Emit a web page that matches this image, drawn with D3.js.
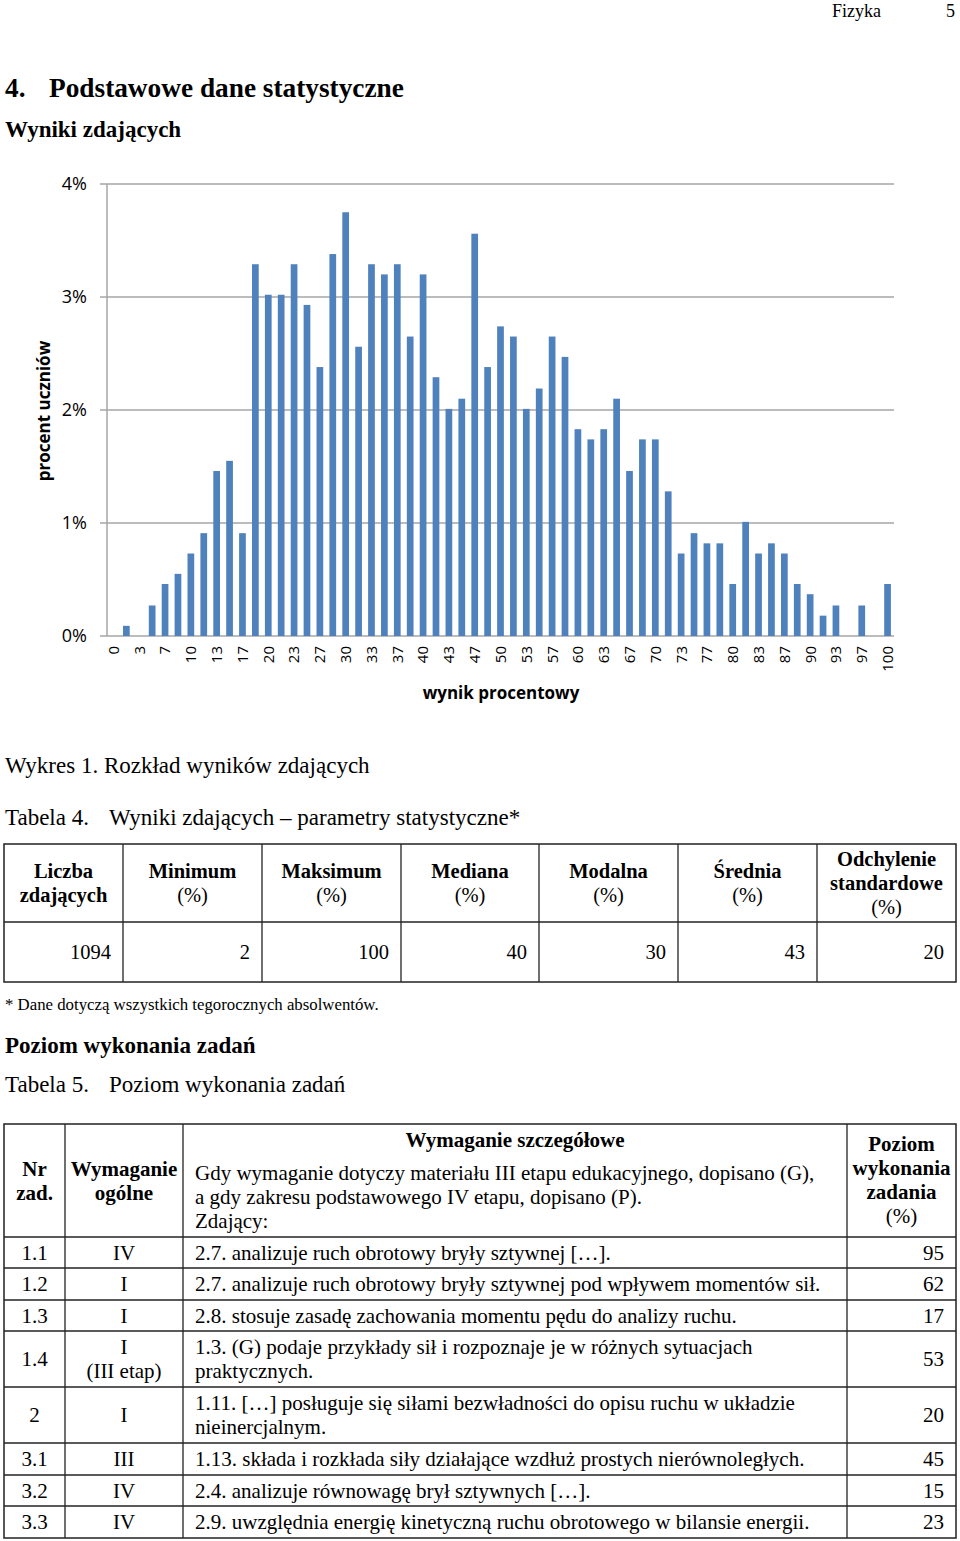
<!DOCTYPE html>
<html><head><meta charset="utf-8">
<script src="https://cdn.jsdelivr.net/npm/d3@7"></script>
<style>
html,body{margin:0;padding:0;background:#fff;}
svg{display:block;}
.serif{font-family:"Liberation Serif","Times New Roman",serif;fill:#000;}
.sans{font-family:"Open Sans","Liberation Sans",sans-serif;fill:#000;}
</style></head>
<body>
<svg id="page" width="960" height="1541"></svg>
<script>
// ---------- DATA ----------
const categories = ["0","2","3","5","7","8","10","12","13","15","17","18","20","22","23","25","27","28","30","32","33","35","37","38","40","42","43","45","47","48","50","52","53","55","57","58","60","62","63","65","67","68","70","72","73","75","77","78","80","82","83","85","87","88","90","92","93","95","97","98","100"];
const shares = [0,0.09,0,0.27,0.46,0.55,0.73,0.91,1.46,1.55,0.91,3.29,3.02,3.02,3.29,2.93,2.38,3.38,3.75,2.56,3.29,3.20,3.29,2.65,3.20,2.29,2.01,2.10,3.56,2.38,2.74,2.65,2.01,2.19,2.65,2.47,1.83,1.74,1.83,2.10,1.46,1.74,1.74,1.28,0.73,0.91,0.82,0.82,0.46,1.01,0.73,0.82,0.73,0.46,0.37,0.18,0.27,0,0.27,0,0.46];
const tickLabels = ["0","3","7","10","13","17","20","23","27","30","33","37","40","43","47","50","53","57","60","63","67","70","73","77","80","83","87","90","93","97","100"];
const yTicks = [0,1,2,3,4];

const stat4Headers = [["Liczba","zdających"],["Minimum","(%)"],["Maksimum","(%)"],["Mediana","(%)"],["Modalna","(%)"],["Średnia","(%)"],["Odchylenie","standardowe","(%)"]];
const stat4Values = [1094,2,100,40,30,43,20];

const taskNr = ["1.1","1.2","1.3","1.4","2","3.1","3.2","3.3"];
const taskGeneral = [["IV"],["I"],["I"],["I","(III etap)"],["I"],["III"],["IV"],["IV"]];
const taskSpecific = [
 ["2.7. analizuje ruch obrotowy bryły sztywnej […]."],
 ["2.7. analizuje ruch obrotowy bryły sztywnej pod wpływem momentów sił."],
 ["2.8. stosuje zasadę zachowania momentu pędu do analizy ruchu."],
 ["1.3. (G) podaje przykłady sił i rozpoznaje je w różnych sytuacjach","praktycznych."],
 ["1.11. […] posługuje się siłami bezwładności do opisu ruchu w układzie","nieinercjalnym."],
 ["1.13. składa i rozkłada siły działające wzdłuż prostych nierównoległych."],
 ["2.4. analizuje równowagę brył sztywnych […]."],
 ["2.9. uwzględnia energię kinetyczną ruchu obrotowego w bilansie energii."]
];
const taskLevel = [95,62,17,53,20,45,15,23];

// ---------- PAGE ----------
const svg = d3.select("#page");

svg.append("text").attr("class","serif").attr("x",881).attr("y",17).attr("text-anchor","end").attr("font-size",18).text("Fizyka");
svg.append("text").attr("class","serif").attr("x",955).attr("y",17).attr("text-anchor","end").attr("font-size",18).text("5");

svg.append("text").attr("class","serif").attr("x",5).attr("y",97).attr("font-size",27.3).attr("font-weight","bold").text("4.");
svg.append("text").attr("class","serif").attr("x",49).attr("y",97).attr("font-size",27.3).attr("font-weight","bold").text("Podstawowe dane statystyczne");
svg.append("text").attr("class","serif").attr("x",5).attr("y",137).attr("font-size",23).attr("font-weight","bold").text("Wyniki zdających");

// ---------- CHART ----------
const x = d3.scaleBand().domain(d3.range(categories.length)).range([107,894]).paddingInner(0.48).paddingOuter(0.24);
const y = d3.scaleLinear().domain([0,4]).range([636,184]);
const g = svg.append("g");

g.selectAll("line.grid").data(yTicks).enter().append("line")
  .attr("x1",100).attr("x2",894).attr("y1",d=>y(d)).attr("y2",d=>y(d))
  .attr("stroke","#a6a6a6").attr("stroke-width",1.5);
g.append("line").attr("x1",107).attr("x2",107).attr("y1",y(4)).attr("y2",y(0)).attr("stroke","#a6a6a6").attr("stroke-width",1.5);

g.selectAll("text.ylab").data(yTicks).enter().append("text").attr("class","sans")
  .attr("x",87).attr("y",d=>y(d)).attr("dy","0.36em").attr("text-anchor","end").attr("font-size",18)
  .text(d=>d+"%");

g.selectAll("rect.bar").data(shares).enter().append("rect")
  .attr("x",(d,i)=>x(i)).attr("width",x.bandwidth())
  .attr("y",d=>y(d)).attr("height",d=>y(0)-y(d)).attr("fill","#4f81bd");

const tickIdx = categories.map((c,i)=>i).filter(i=>i%2===0);
g.selectAll("text.xlab").data(tickIdx).enter().append("text").attr("class","sans")
  .attr("transform",i=>`translate(${x(i)+x.bandwidth()/2},646) rotate(-90)`)
  .attr("text-anchor","end").attr("dy","0.36em").attr("font-size",15)
  .text((i,k)=>tickLabels[k]);

g.append("text").attr("class","sans").attr("font-weight","bold").attr("font-size",17)
  .attr("text-anchor","middle").attr("transform","translate(50,411) rotate(-90)").text("procent uczniów");
g.append("text").attr("class","sans").attr("font-weight","bold").attr("font-size",17)
  .attr("text-anchor","middle").attr("x",501).attr("y",699).text("wynik procentowy");

// ---------- CAPTIONS ----------
svg.append("text").attr("class","serif").attr("x",5).attr("y",773).attr("font-size",23).text("Wykres 1. Rozkład wyników zdających");
svg.append("text").attr("class","serif").attr("x",5).attr("y",825).attr("font-size",23).text("Tabela 4.");
svg.append("text").attr("class","serif").attr("x",109).attr("y",825).attr("font-size",23).text("Wyniki zdających – parametry statystyczne*");

// ---------- TABLE 4 ----------
const t4x = [4,123,262,401,539,678,817,956];
const t4y = [844,922,982];
const t4 = svg.append("g");
t4.append("rect").attr("x",t4x[0]).attr("y",t4y[0]).attr("width",t4x[7]-t4x[0]).attr("height",t4y[2]-t4y[0]).attr("fill","none").attr("stroke","#222").attr("stroke-width",1.5);
t4x.slice(1,-1).forEach(xx=>t4.append("line").attr("x1",xx).attr("x2",xx).attr("y1",t4y[0]).attr("y2",t4y[2]).attr("stroke","#222").attr("stroke-width",1.3));
t4.append("line").attr("x1",t4x[0]).attr("x2",t4x[7]).attr("y1",t4y[1]).attr("y2",t4y[1]).attr("stroke","#222").attr("stroke-width",1.3);
stat4Headers.forEach((lines,i)=>{
  const cx=(t4x[i]+t4x[i+1])/2, cy=(t4y[0]+t4y[1])/2;
  lines.forEach((ln,j)=>{
    t4.append("text").attr("class","serif").attr("x",cx).attr("y",cy+(j-(lines.length-1)/2)*24).attr("dy","0.35em")
      .attr("text-anchor","middle").attr("font-size",20.5).attr("font-weight",ln==="(%)"?"normal":"bold").text(ln);
  });
  t4.append("text").attr("class","serif").attr("x",t4x[i+1]-12).attr("y",(t4y[1]+t4y[2])/2).attr("dy","0.35em")
    .attr("text-anchor","end").attr("font-size",20.5).text(stat4Values[i]);
});
svg.append("text").attr("class","serif").attr("x",5).attr("y",1010).attr("font-size",16.8).text("* Dane dotyczą wszystkich tegorocznych absolwentów.");

svg.append("text").attr("class","serif").attr("x",5).attr("y",1053).attr("font-size",23).attr("font-weight","bold").text("Poziom wykonania zadań");
svg.append("text").attr("class","serif").attr("x",5).attr("y",1092).attr("font-size",23).text("Tabela 5.");
svg.append("text").attr("class","serif").attr("x",109).attr("y",1092).attr("font-size",23).text("Poziom wykonania zadań");

// ---------- TABLE 5 ----------
const t5x = [4,65,183,847,956];
const t5y = [1124,1237,1268,1300,1331,1387,1443,1475,1506,1538];
const t5 = svg.append("g");
t5.append("rect").attr("x",t5x[0]).attr("y",t5y[0]).attr("width",t5x[4]-t5x[0]).attr("height",t5y[9]-t5y[0]).attr("fill","none").attr("stroke","#222").attr("stroke-width",1.5);
t5x.slice(1,-1).forEach(xx=>t5.append("line").attr("x1",xx).attr("x2",xx).attr("y1",t5y[0]).attr("y2",t5y[9]).attr("stroke","#222").attr("stroke-width",1.3));
t5y.slice(1,-1).forEach(yy=>t5.append("line").attr("x1",t5x[0]).attr("x2",t5x[4]).attr("y1",yy).attr("y2",yy).attr("stroke","#222").attr("stroke-width",1.3));

function txt(sel,xx,yy,s,anchor,bold){
  return sel.append("text").attr("class","serif").attr("x",xx).attr("y",yy).attr("dy","0.35em")
   .attr("text-anchor",anchor).attr("font-size",21).attr("font-weight",bold?"bold":"normal").text(s);
}
const hc=(t5y[0]+t5y[1])/2;
txt(t5,(t5x[0]+t5x[1])/2,hc-12,"Nr","middle",true);
txt(t5,(t5x[0]+t5x[1])/2,hc+12,"zad.","middle",true);
txt(t5,(t5x[1]+t5x[2])/2,hc-12,"Wymaganie","middle",true);
txt(t5,(t5x[1]+t5x[2])/2,hc+12,"ogólne","middle",true);
txt(t5,(t5x[2]+t5x[3])/2,1140,"Wymaganie szczegółowe","middle",true);
txt(t5,195,1173,"Gdy wymaganie dotyczy materiału III etapu edukacyjnego, dopisano (G),","start",false);
txt(t5,195,1197,"a gdy zakresu podstawowego IV etapu, dopisano (P).","start",false);
txt(t5,195,1221,"Zdający:","start",false);
["Poziom","wykonania","zadania"].forEach((s,j)=>txt(t5,(t5x[3]+t5x[4])/2,1144+24*j,s,"middle",true));
txt(t5,(t5x[3]+t5x[4])/2,1216,"(%)","middle",false);

taskNr.forEach((nr,i)=>{
  const cy=(t5y[i+1]+t5y[i+2])/2;
  txt(t5,(t5x[0]+t5x[1])/2,cy,nr,"middle",false);
  const gl=taskGeneral[i];
  gl.forEach((s,j)=>txt(t5,(t5x[1]+t5x[2])/2,cy+(j-(gl.length-1)/2)*24,s,"middle",false));
  const sl=taskSpecific[i];
  sl.forEach((s,j)=>txt(t5,195,cy+(j-(sl.length-1)/2)*24,s,"start",false));
  txt(t5,t5x[4]-12,cy,taskLevel[i],"end",false);
});
</script>
</body></html>
